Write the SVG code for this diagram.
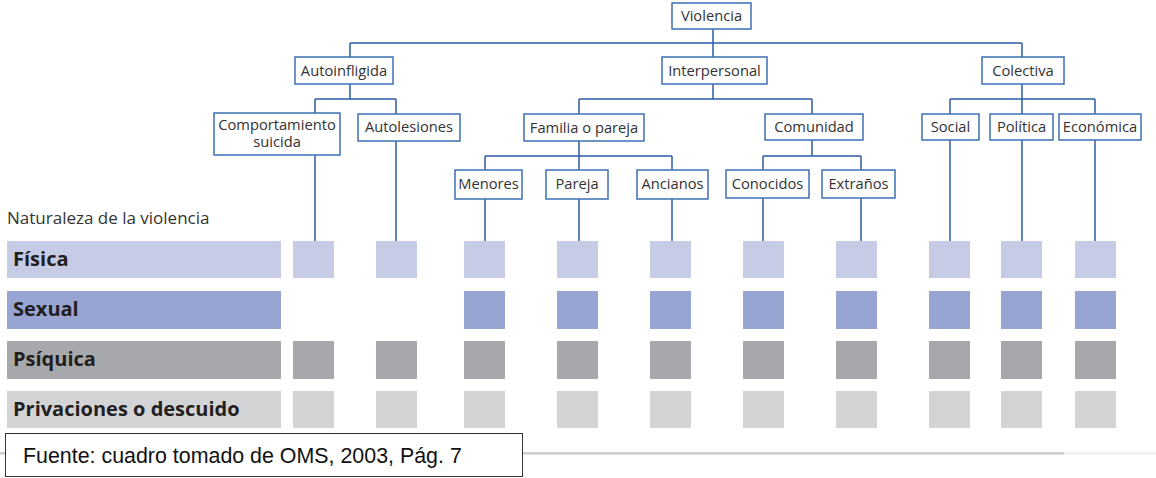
<svg xmlns="http://www.w3.org/2000/svg" width="1156" height="478" viewBox="0 0 1156 478">
<style>
.box{fill:#fff;stroke:#3d70b6;stroke-width:1.5}
.t{font-family:"Open Sans","DejaVu Sans",sans-serif;font-size:14.7px;fill:#333;text-anchor:middle}
.conn{fill:none;stroke:#2b5ca8;stroke-width:1.5}
.lbl{font-family:"Open Sans","DejaVu Sans",sans-serif;font-size:20px;font-weight:bold;fill:#231f20}
.f{fill:#c7cce6}.s{fill:#98a4d2}.p{fill:#a7a8ab}.d{fill:#d3d4d6}
</style>
<rect width="1156" height="478" fill="#fff"/>
<g id="connectors" class="conn">
<path d="M713 29V43M350 43H1022M350 43V57M713 43V57M1022 43V57"/>
<path d="M350 84V99M315 99H396M315 99V113M396 99V114"/>
<path d="M315 155V241M396 141V241"/>
<path d="M713 84V99M579 99H812M579 99V114M812 99V114"/>
<path d="M579 141V156M485 156H672M485 156V170M579 156V170M672 156V170"/>
<path d="M485 199V241M579 199V241M672 199V241"/>
<path d="M812 140V156M763 156H861M763 156V170M861 156V170"/>
<path d="M763 198V241M861 198V241"/>
<path d="M1022 84V99M950 99H1095M950 99V114M1022 99V114M1095 99V114"/>
<path d="M950 140V241M1022 140V241M1095 140V241"/>
</g>
<g id="violencia"><rect class="box" x="672" y="3" width="79" height="26"/><text class="t" x="711.5" y="21">Violencia</text></g>
<g id="autoinfligida"><rect class="box" x="295" y="57" width="98" height="27"/><text class="t" x="344" y="76">Autoinfligida</text></g>
<g id="interpersonal"><rect class="box" x="662" y="57" width="105" height="27"/><text class="t" x="714.5" y="76">Interpersonal</text></g>
<g id="colectiva"><rect class="box" x="982" y="57" width="82" height="27"/><text class="t" x="1023" y="76">Colectiva</text></g>
<g id="comportamiento"><rect class="box" x="214" y="113" width="126" height="42"/><text class="t" x="277" y="130">Comportamiento<tspan x="277" dy="17">suicida</tspan></text></g>
<g id="autolesiones"><rect class="box" x="358" y="114" width="102" height="27"/><text class="t" x="409" y="132">Autolesiones</text></g>
<g id="familia"><rect class="box" x="524" y="114" width="120" height="27"/><text class="t" x="584" y="133">Familia o pareja</text></g>
<g id="comunidad"><rect class="box" x="765" y="114" width="98" height="26"/><text class="t" x="814" y="132">Comunidad</text></g>
<g id="social"><rect class="box" x="922" y="114" width="57" height="26"/><text class="t" x="950.5" y="132">Social</text></g>
<g id="politica"><rect class="box" x="990" y="114" width="63" height="26"/><text class="t" x="1021.5" y="132">Política</text></g>
<g id="economica"><rect class="box" x="1059" y="114" width="82" height="26"/><text class="t" x="1100" y="132">Económica</text></g>
<g id="menores"><rect class="box" x="455" y="170" width="67" height="29"/><text class="t" x="488.5" y="189">Menores</text></g>
<g id="pareja"><rect class="box" x="546" y="170" width="62" height="29"/><text class="t" x="577" y="189">Pareja</text></g>
<g id="ancianos"><rect class="box" x="637" y="170" width="71" height="29"/><text class="t" x="672.5" y="189">Ancianos</text></g>
<g id="conocidos"><rect class="box" x="726" y="170" width="83" height="28"/><text class="t" x="767.5" y="189">Conocidos</text></g>
<g id="extranos"><rect class="box" x="822" y="170" width="73" height="28"/><text class="t" x="858.5" y="189">Extraños</text></g>
<text x="7" y="224" font-family="'Open Sans','DejaVu Sans',sans-serif" font-size="17" fill="#333">Naturaleza de la violencia</text>
<g id="rows">
<rect class="f" x="7" y="241" width="274" height="37"/>
<rect class="s" x="7" y="291" width="274" height="38"/>
<rect class="p" x="7" y="341" width="274" height="38"/>
<rect class="d" x="7" y="391" width="274" height="37"/>
<text class="lbl" x="13" y="266">Física</text>
<text class="lbl" x="13" y="316">Sexual</text>
<text class="lbl" x="13" y="366">Psíquica</text>
<text class="lbl" x="13" y="416">Privaciones o descuido</text>
</g>
<g id="squares">
<rect class="f" x="293" y="241" width="41" height="37"/><rect class="f" x="376" y="241" width="41" height="37"/><rect class="f" x="464" y="241" width="41" height="37"/><rect class="f" x="557" y="241" width="41" height="37"/><rect class="f" x="650" y="241" width="41" height="37"/><rect class="f" x="743" y="241" width="41" height="37"/><rect class="f" x="836" y="241" width="41" height="37"/><rect class="f" x="929" y="241" width="41" height="37"/><rect class="f" x="1001" y="241" width="41" height="37"/><rect class="f" x="1075" y="241" width="41" height="37"/>
<rect class="s" x="464" y="291" width="41" height="38"/><rect class="s" x="557" y="291" width="41" height="38"/><rect class="s" x="650" y="291" width="41" height="38"/><rect class="s" x="743" y="291" width="41" height="38"/><rect class="s" x="836" y="291" width="41" height="38"/><rect class="s" x="929" y="291" width="41" height="38"/><rect class="s" x="1001" y="291" width="41" height="38"/><rect class="s" x="1075" y="291" width="41" height="38"/>
<rect class="p" x="293" y="341" width="41" height="38"/><rect class="p" x="376" y="341" width="41" height="38"/><rect class="p" x="464" y="341" width="41" height="38"/><rect class="p" x="557" y="341" width="41" height="38"/><rect class="p" x="650" y="341" width="41" height="38"/><rect class="p" x="743" y="341" width="41" height="38"/><rect class="p" x="836" y="341" width="41" height="38"/><rect class="p" x="929" y="341" width="41" height="38"/><rect class="p" x="1001" y="341" width="41" height="38"/><rect class="p" x="1075" y="341" width="41" height="38"/>
<rect class="d" x="293" y="391" width="41" height="37"/><rect class="d" x="376" y="391" width="41" height="37"/><rect class="d" x="464" y="391" width="41" height="37"/><rect class="d" x="557" y="391" width="41" height="37"/><rect class="d" x="650" y="391" width="41" height="37"/><rect class="d" x="743" y="391" width="41" height="37"/><rect class="d" x="836" y="391" width="41" height="37"/><rect class="d" x="929" y="391" width="41" height="37"/><rect class="d" x="1001" y="391" width="41" height="37"/><rect class="d" x="1075" y="391" width="41" height="37"/>
</g>
<rect x="0" y="452" width="1064" height="2.5" fill="#cdcdcd"/>
<rect x="1064" y="452" width="92" height="2.5" fill="#efefef"/>
<g id="fuente">
<rect x="5.5" y="433.5" width="517" height="43" fill="#fff" stroke="#333" stroke-width="1"/>
<text x="23" y="463" font-family="'Liberation Sans',Arial,sans-serif" font-size="21.4" fill="#111">Fuente: cuadro tomado de OMS, 2003, Pág. 7</text>
</g>
</svg>
